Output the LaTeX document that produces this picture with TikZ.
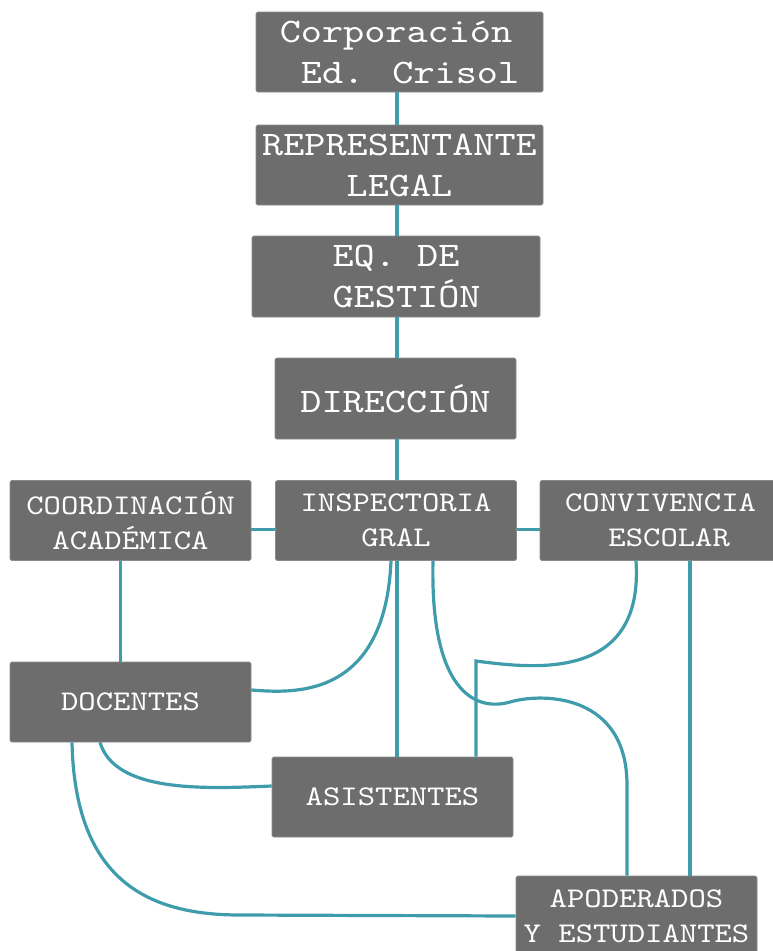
\documentclass[tikz,border=0pt]{standalone}
\usepackage{fontspec}
\newfontfamily\bigmono[FakeStretch=1.17]{lmmono10-regular.otf}
\newfontfamily\smallmono[FakeStretch=1.16]{lmmono10-regular.otf}
\definecolor{boxgray}{HTML}{6D6D6D}
\definecolor{linkteal}{HTML}{3F9CAB}

\begin{document}
\begin{tikzpicture}[x=1pt, y=-1pt,
    box/.style={fill=boxgray, draw=boxgray!80!white, line width=0.6pt, rounded corners=1.5pt,
      text=white, inner sep=0pt, minimum width=241pt, minimum height=80pt, align=center},
    bigbox/.style={box, font=\bigmono\fontsize{34.4}{41}\selectfont},
    smallbox/.style={box, font=\smallmono\fontsize{28.5}{35}\selectfont},
    link/.style={draw=linkteal, line width=3.2pt}]
    \useasboundingbox (0,0) rectangle (773,951);

    % Draw the top chain of boxes
    \node[bigbox, minimum width=287pt, align=left] (corp) at (399.5,52) {Corporación\\~Ed. Crisol};
    \node[bigbox, minimum width=287pt] (repr) at (399.5,165) {REPRESENTANTE\\LEGAL};
    \node[bigbox, minimum width=288pt, minimum height=81pt, align=left] (eqgest) at (396,276.5) {~EQ. DE\\~GESTIÓN};
    \node[bigbox, minimum height=81pt] (dir) at (395.5,398.5) {DIRECCIÓN};

    % Draw the middle row
    \node[smallbox] (coord) at (130.5,520.5) {COORDINACIÓN\\ACADÉMICA};
    \node[smallbox] (insp) at (396,520.5) {INSPECTORIA\\GRAL};
    \node[smallbox] (conv) at (660.5,520.5) {CONVIVENCIA\\~ESCOLAR};

    % Draw the lower boxes
    \node[smallbox] (doc) at (130.5,702) {DOCENTES};
    \node[smallbox] (asist) at (392.5,797) {ASISTENTES};
    \node[smallbox] (apod) at (636.5,916) {APODERADOS\\Y ESTUDIANTES};

    % Points the connectors pass through
    \coordinate (spine) at (397,0);
    \coordinate (wave) at (510,702);
    \coordinate (bend) at (627,785);
    \coordinate (corner) at (476,661);
    \coordinate (sweep) at (240,915);

    % Connect the top chain
    \draw[link] (corp.south -| spine) -- (repr.north -| spine);
    \draw[link] (repr.south -| spine) -- (eqgest.north -| spine);
    \draw[link] (eqgest.south -| spine) -- (dir.north -| spine);
    \draw[link] (dir.south -| spine) -- (insp.north -| spine);

    % Connect the middle row
    \draw[link] ([yshift=-9pt]coord.east) -- ([yshift=-9pt]insp.west);
    \draw[link] ([yshift=-9pt]insp.east) -- ([yshift=-9pt]conv.west);
    \draw[link] ([xshift=-10pt]coord.south) -- ([xshift=-10pt]doc.north);

    % Connectors leaving Inspectoria
    \draw[link] ([xshift=-5pt]insp.south) .. controls +(-6,140) and +(40,3) .. ([yshift=12pt]doc.east);
    \draw[link] (insp.south -| spine) -- (asist.north -| spine);
    \draw[link] ([xshift=37pt]insp.south) .. controls +(-3,130) and +(-35,10) .. (wave)
      .. controls +(35,-10) and +(0,-90) .. (bend) -- (bend |- apod.north);

    % Connectors leaving Convivencia
    \draw[link] ([xshift=-24.5pt]conv.south) .. controls +(8,120) and +(60,8) .. (corner) -- (corner |- asist.north);
    \draw[link] ([xshift=29.5pt]conv.south) -- ([xshift=29.5pt]conv.south |- apod.north);

    % Connectors leaving Docentes
    \draw[link] ([xshift=-30.5pt]doc.south) .. controls +(15,50) and +(-70,3) .. ([yshift=11pt]asist.west);
    \draw[link] ([xshift=-58.5pt]doc.south) .. controls +(3,140) and +(-90,0) .. (sweep) -- (apod.west);
\end{tikzpicture}
\end{document}
